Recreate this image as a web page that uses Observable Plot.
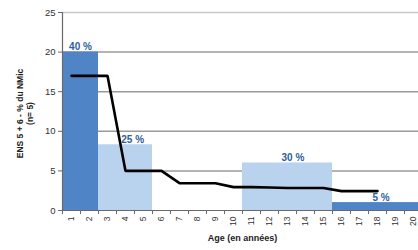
<!DOCTYPE html>
<html><head><meta charset="utf-8">
<script src="https://cdn.jsdelivr.net/npm/d3@7"></script>
<script src="https://cdn.jsdelivr.net/npm/@observablehq/plot@0.6"></script>
<style>
body{margin:0;background:#fff}
svg{font-family:"Liberation Sans",Arial,sans-serif}
</style>
</head><body><div id="chart"></div>
<script>
// Categories (age in years)
const ages = [1,2,3,4,5,6,7,8,9,10,11,12,13,14,15,16,17,18,19,20];
// Bar values (% of NMic, one per age), and shade group
const barValues = [20,20,8.3,8.3,8.3,0,0,0,0,0,6,6,6,6,6,1,1,1,1,1];
const barShade  = ["dark","dark","light","light","light","none","none","none","none","none","light","light","light","light","light","dark","dark","dark","dark","dark"];
// Black line series
const lineAges   = [1,2,3,4,5,6,7,8,9,10,11,12,13,14,15,16,17,18];
const lineValues = [17,17,17,5,5,5,3.45,3.45,3.45,2.95,2.95,2.9,2.85,2.85,2.85,2.45,2.45,2.45];
// Percentage labels
const pctLabels = ["40 %","25 %","30 %","5 %"];
const pctAge    = [1.5,4.4,13.3,18.2];
const pctValues = [20,8.3,6,1];
// Axis ticks
const yTicks = [0,5,10,15,20,25];
const gridValues = [5,10,15,20];
const yTitle = "ENS 5 + 6 - % du NMic\n(n= 5)";
const xTitle = "Age (en années)";

const palette = {dark:"#4F85C6", light:"#B9D3EE"};
const bars = ages.map((a,i)=>({age:a, v:barValues[i], shade:barShade[i]})).filter(d=>d.shade!=="none");
const line = lineAges.map((a,i)=>({age:a, v:lineValues[i]}));
const labels = pctLabels.map((t,i)=>({t, age:pctAge[i], v:pctValues[i]}));

const chart = Plot.plot({
  width: 418, height: 250,
  marginLeft: 62, marginRight: -4, marginTop: 12, marginBottom: 40,
  x: {type:"linear", domain:[0,20], axis:null},
  y: {domain:[0,25], axis:null},
  color: {type:"identity"},
  style: {fontFamily:"Liberation Sans, Arial, sans-serif", background:"#fff"},
  marks: [
    Plot.ruleY(gridValues, {stroke:"#9a9a9a", strokeWidth:1.5}),
    Plot.ruleY([25], {stroke:"#c8c8c8", strokeWidth:1.5}),
    Plot.rectY(bars, {x1:d=>d.age-1, x2:d=>d.age, y:"v", fill:d=>palette[d.shade]}),
    Plot.line(line, {x:d=>d.age-0.5, y:"v", stroke:"#000", strokeWidth:2.6, strokeLinejoin:"miter"}),
    Plot.text(labels, {x:d=>d.age-0.5, y:"v", text:"t", fill:"#2E5E9B", fontWeight:"bold", fontSize:10, lineAnchor:"bottom", dy:-2}),
    Plot.ruleX([0], {y1:0, y2:25, stroke:"#6a6a6a", strokeWidth:1.2}),
    Plot.ruleY([0], {stroke:"#6a6a6a", strokeWidth:1.2}),
    Plot.axisY(yTicks, {tickSize:4, tickPadding:3, fontSize:9.5, stroke:"#6a6a6a", fill:"#333", label:null}),
    Plot.axisX([0,...ages], {tickSize:4, tickFormat:()=>"", stroke:"#6a6a6a", label:null}),
    Plot.axisX(ages.map(a=>a-0.5), {tickSize:0, tickPadding:6, tickRotate:-90, tickFormat:d=>String(d+0.5), fontSize:8.5, fill:"#333", label:null}),
    Plot.text([yTitle], {frameAnchor:"left", textAnchor:"middle", dx:-38, dy:2, rotate:-90, fontWeight:"bold", fontSize:8.5, lineHeight:1.15, fill:"#222"}),
    Plot.text([xTitle], {frameAnchor:"bottom", dx:0, dy:30, fontWeight:"bold", fontSize:9, fill:"#222"})
  ]
});
document.getElementById("chart").appendChild(chart);
</script>
</body></html>
